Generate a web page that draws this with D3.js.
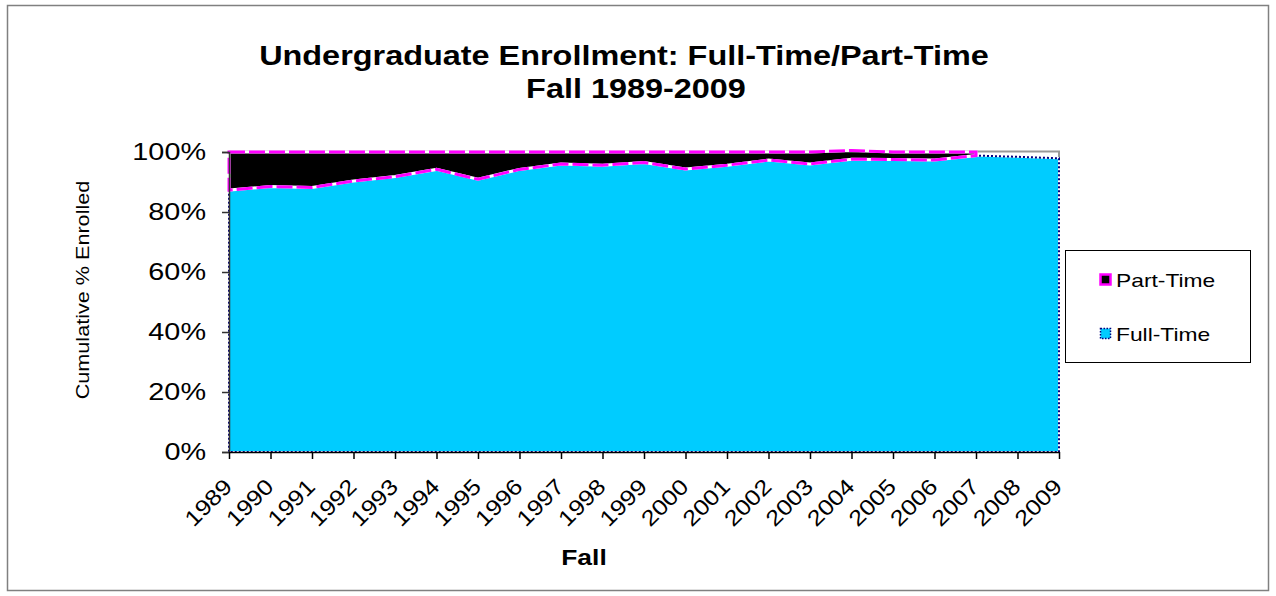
<!DOCTYPE html>
<html><head><meta charset="utf-8">
<script src="https://cdn.jsdelivr.net/npm/d3@7"></script>
<style>body{margin:0;background:#fff;}svg{display:block;font-family:Arial,"Liberation Sans",sans-serif;}</style>
</head><body>
<svg id="c" width="1276" height="596"></svg>
<script>
const years = ["1989","1990","1991","1992","1993","1994","1995","1996","1997","1998","1999","2000","2001","2002","2003","2004","2005","2006","2007","2008","2009"];
const fullTime = [87.3,88.5,88.2,90.3,91.8,94.2,90.9,94.2,96.0,95.6,96.5,94.3,95.6,97.3,96.0,97.6,97.5,97.3,98.8,98.4,97.9];
const partTime = [12.7,11.5,11.8,9.7,8.2,5.8,9.1,5.8,4.0,4.4,3.5,5.7,4.4,2.7,4.0,2.9,2.5,2.7,1.2,null,null];
const yTicks = [0,20,40,60,80,100];
const titleLines = ["Undergraduate Enrollment: Full-Time/Part-Time","Fall 1989-2009"];
const seriesNames = ["Part-Time","Full-Time"];

const STRETCH = 1.2;
function stretch(sel, k){
  const s = k || STRETCH;
  sel.each(function(){
    const w = this.getComputedTextLength();
    d3.select(this).attr("textLength", w*s).attr("lengthAdjust","spacingAndGlyphs");
  });
}

const svg = d3.select("#c");
svg.append("rect").attr("x",7.5).attr("y",5.5).attr("width",1261).attr("height",585).attr("fill","#fff").attr("stroke","#808080").attr("stroke-width",1.5);

const L=229,R=1059,T=152,B=452;
const x = d3.scalePoint().domain(years).range([L,R]);
const y = d3.scaleLinear().domain([0,100]).range([B,T]);

// plot area border
svg.append("path").attr("d",`M${L},${T-0.5}H${R}V${B}`).attr("fill","none").attr("stroke","#999").attr("stroke-width",2);

const data = years.map((yr,i)=>({yr,f:fullTime[i],p:partTime[i]}));

const areaFull = d3.area().x(d=>x(d.yr)).y0(y(0)).y1(d=>y(d.f));
const areaPart = d3.area().defined(d=>d.p!=null).x(d=>x(d.yr)).y0(d=>y(d.f)).y1(d=>y(d.f+d.p));

// full-time
svg.append("path").datum(data).attr("d",areaFull).attr("fill","#00CCFF");
svg.append("path").datum(data).attr("d",areaFull).attr("fill","none").attr("stroke","#fff").attr("stroke-width",2);
svg.append("path").datum(data).attr("d",areaFull).attr("fill","none").attr("stroke","#000080").attr("stroke-width",2).attr("stroke-dasharray","2,2");

// part-time
svg.append("path").datum(data).attr("d",areaPart).attr("fill","#000");
svg.append("path").datum(data).attr("d",areaPart).attr("fill","none").attr("stroke","#fff").attr("stroke-width",3);
svg.append("path").datum(data).attr("d",areaPart).attr("fill","none").attr("stroke","#FF00FF").attr("stroke-width",3).attr("stroke-dasharray","16,4");

// y axis
const ya = svg.append("g").attr("transform",`translate(${L},0)`)
  .call(d3.axisLeft(y).tickValues(yTicks).tickFormat(d=>d+"%").tickSize(7).tickPadding(16));
ya.select(".domain").attr("stroke","#333").attr("stroke-width",1.5);
ya.selectAll(".tick line").attr("stroke","#333").attr("stroke-width",1.5);
ya.selectAll("text").attr("font-size",24).attr("fill","#000").attr("font-family","Arial,'Liberation Sans',sans-serif").call(stretch);

// x axis
const xa = svg.append("g").attr("transform",`translate(0,${B})`)
  .call(d3.axisBottom(x).tickSize(7).tickSizeOuter(0));
xa.select(".domain").attr("stroke","#000").attr("stroke-width",1.5);
xa.selectAll(".tick line").attr("stroke","#000").attr("stroke-width",1.5);
xa.selectAll("text").attr("font-size",22).attr("fill","#000").attr("font-family","Arial,'Liberation Sans',sans-serif")
  .attr("text-anchor","end").attr("dy",0).attr("y",0)
  .attr("transform","translate(4,36) rotate(-45)").call(stretch, 1.15);

// titles
svg.append("text").attr("x",624).attr("y",65).attr("text-anchor","middle").attr("font-size",27).attr("font-weight","bold").text(titleLines[0]).call(stretch);
svg.append("text").attr("x",636).attr("y",98).attr("text-anchor","middle").attr("font-size",27).attr("font-weight","bold").text(titleLines[1]).call(stretch);
svg.append("text").attr("x",584).attr("y",565).attr("text-anchor","middle").attr("font-size",22).attr("font-weight","bold").text("Fall").call(stretch);
svg.append("text").attr("transform","translate(89,290) rotate(-90)").attr("text-anchor","middle").attr("font-size",18).text("Cumulative % Enrolled").call(stretch);

// legend
svg.append("rect").attr("x",1065.5).attr("y",250.5).attr("width",185).attr("height",112).attr("fill","#fff").attr("stroke","#000").attr("stroke-width",1);
const lg = svg.append("g");
lg.append("rect").attr("x",1100.5).attr("y",274.5).attr("width",10).attr("height",10).attr("fill","#000").attr("stroke","#FF00FF").attr("stroke-width",2.5);
lg.append("text").attr("x",1116).attr("y",287).attr("font-size",19).text(seriesNames[0]).call(stretch);
lg.append("rect").attr("x",1100.5).attr("y",328.5).attr("width",10).attr("height",10).attr("fill","#00CCFF").attr("stroke","#000080").attr("stroke-width",1.5).attr("stroke-dasharray","1.5,1.5");
lg.append("text").attr("x",1116).attr("y",341).attr("font-size",19).text(seriesNames[1]).call(stretch);
</script>
</body></html>
